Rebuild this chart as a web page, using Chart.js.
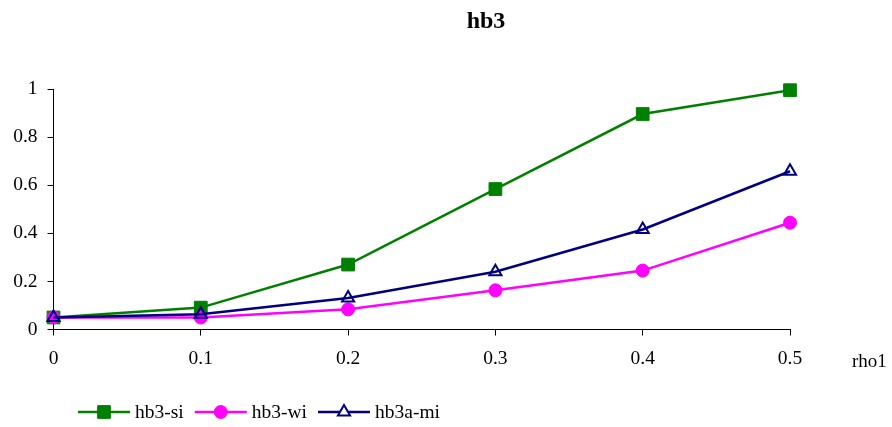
<!DOCTYPE html>
<html>
<head>
<meta charset="utf-8">
<title>hb3</title>
<script src="https://cdn.jsdelivr.net/npm/chart.js@4.4.1/dist/chart.umd.min.js"></script>
<style>
  html, body { margin:0; padding:0; background:#fff; }
  #wrap { width:892px; height:427px; position:relative; }
</style>
</head>
<body>
<div id="wrap"><canvas id="chart"></canvas></div>
<script>
/* data */
const rho1 = [0, 0.1, 0.2, 0.3, 0.4, 0.5]
const hb3si = [0.05, 0.091, 0.27, 0.584, 0.896, 0.995]
const hb3wi = [0.05, 0.05, 0.084, 0.163, 0.245, 0.444]
const hb3ami = [0.05, 0.063, 0.131, 0.24, 0.416, 0.658]
const xTicks = [0, 0.1, 0.2, 0.3, 0.4, 0.5]
const yTicks = [0, 0.2, 0.4, 0.6, 0.8, 1]

const SERIF = "'Liberation Serif', 'Times New Roman', serif"

function pts(arr){
  return arr.map((v, i) => ({ x: rho1[i], y: v }))
}

const series = [
  { label: "hb3-si",  data: hb3si,  color: "#008000", style: "rect",     radius: 9,   fill: "#008000",    bw: 1, order: 2 },
  { label: "hb3-wi",  data: hb3wi,  color: "#ff00ff", style: "circle",   radius: 6.5, fill: "#ff00ff",    bw: 1, order: 1 },
  { label: "hb3a-mi", data: hb3ami, color: "#000080", style: "triangle", radius: 7,   fill: "rgba(0,0,0,0)", bw: 2, order: 0 }
]

/* =========================
   TITLE / LEGEND / AXIS NAME
========================= */
const decorations = {
  id: "decorations",
  afterDraw(chart){
    const ctx = chart.ctx
    ctx.save()

    // title
    ctx.fillStyle = "#000"
    ctx.font = "bold 24px " + SERIF
    ctx.textAlign = "center"
    ctx.textBaseline = "middle"
    ctx.fillText("hb3", 486, 22)

    // x axis name
    ctx.font = "19px " + SERIF
    ctx.textAlign = "left"
    ctx.fillText("rho1", 852, 362)

    // legend: line with marker, then label
    let x = 78
    const y = 412
    const lineW = 52
    series.forEach(s => {
      ctx.strokeStyle = s.color
      ctx.lineWidth = 2.5
      ctx.beginPath()
      ctx.moveTo(x, y)
      ctx.lineTo(x + lineW, y)
      ctx.stroke()

      ctx.fillStyle = s.fill === "rgba(0,0,0,0)" ? "#fff" : s.fill
      ctx.strokeStyle = s.color
      ctx.lineWidth = s.bw
      Chart.helpers.drawPoint(ctx, {
        pointStyle: s.style,
        radius: s.radius,
        rotation: 0,
        borderWidth: s.bw
      }, x + lineW / 2, y)

      ctx.fillStyle = "#000"
      ctx.font = "19.5px " + SERIF
      ctx.textAlign = "left"
      ctx.textBaseline = "middle"
      ctx.fillText(s.label, x + lineW + 5, y + 1)
      x += lineW + 5 + ctx.measureText(s.label).width + 11
    })

    ctx.restore()
  }
}

/* =========================
   CHART
========================= */
new Chart(document.getElementById("chart"), {
  type: "line",
  data: {
    datasets: series.map(s => ({
      label: s.label,
      data: pts(s.data),
      order: s.order,
      clip: false,
      borderColor: s.color,
      borderWidth: 2.5,
      tension: 0,
      fill: false,
      pointStyle: s.style,
      pointRadius: s.radius,
      pointBackgroundColor: s.fill,
      pointBorderColor: s.color,
      pointBorderWidth: s.bw
    }))
  },
  options: {
    responsive: true,
    maintainAspectRatio: false,
    animation: false,
    layout: { padding: { top: 89, right: 102, left: 0, bottom: 0 } },
    plugins: {
      legend: { display: false },
      title: { display: false },
      tooltip: { enabled: false }
    },
    scales: {
      x: {
        type: "linear",
        min: 0,
        max: 0.5,
        afterBuildTicks: axis => { axis.ticks = xTicks.map(v => ({ value: v })) },
        afterFit: axis => { axis.height = 97.5 },
        grid: { drawOnChartArea: false, drawTicks: true, tickLength: 6, color: "#000" },
        border: { display: true, color: "#000", width: 1 },
        ticks: {
          color: "#000",
          padding: 12,
          maxRotation: 0,
          font: { family: SERIF, size: 19.5 },
          callback: v => String(v)
        }
      },
      y: {
        min: 0,
        max: 1,
        afterBuildTicks: axis => { axis.ticks = yTicks.map(v => ({ value: v })) },
        afterFit: axis => { axis.width = 53.5 },
        grid: { drawOnChartArea: false, drawTicks: true, tickLength: 6, color: "#000" },
        border: { display: true, color: "#000", width: 1 },
        ticks: {
          color: "#000",
          padding: 10,
          font: { family: SERIF, size: 19.5 },
          callback: v => String(v)
        }
      }
    }
  },
  plugins: [decorations]
})
</script>
</body>
</html>
